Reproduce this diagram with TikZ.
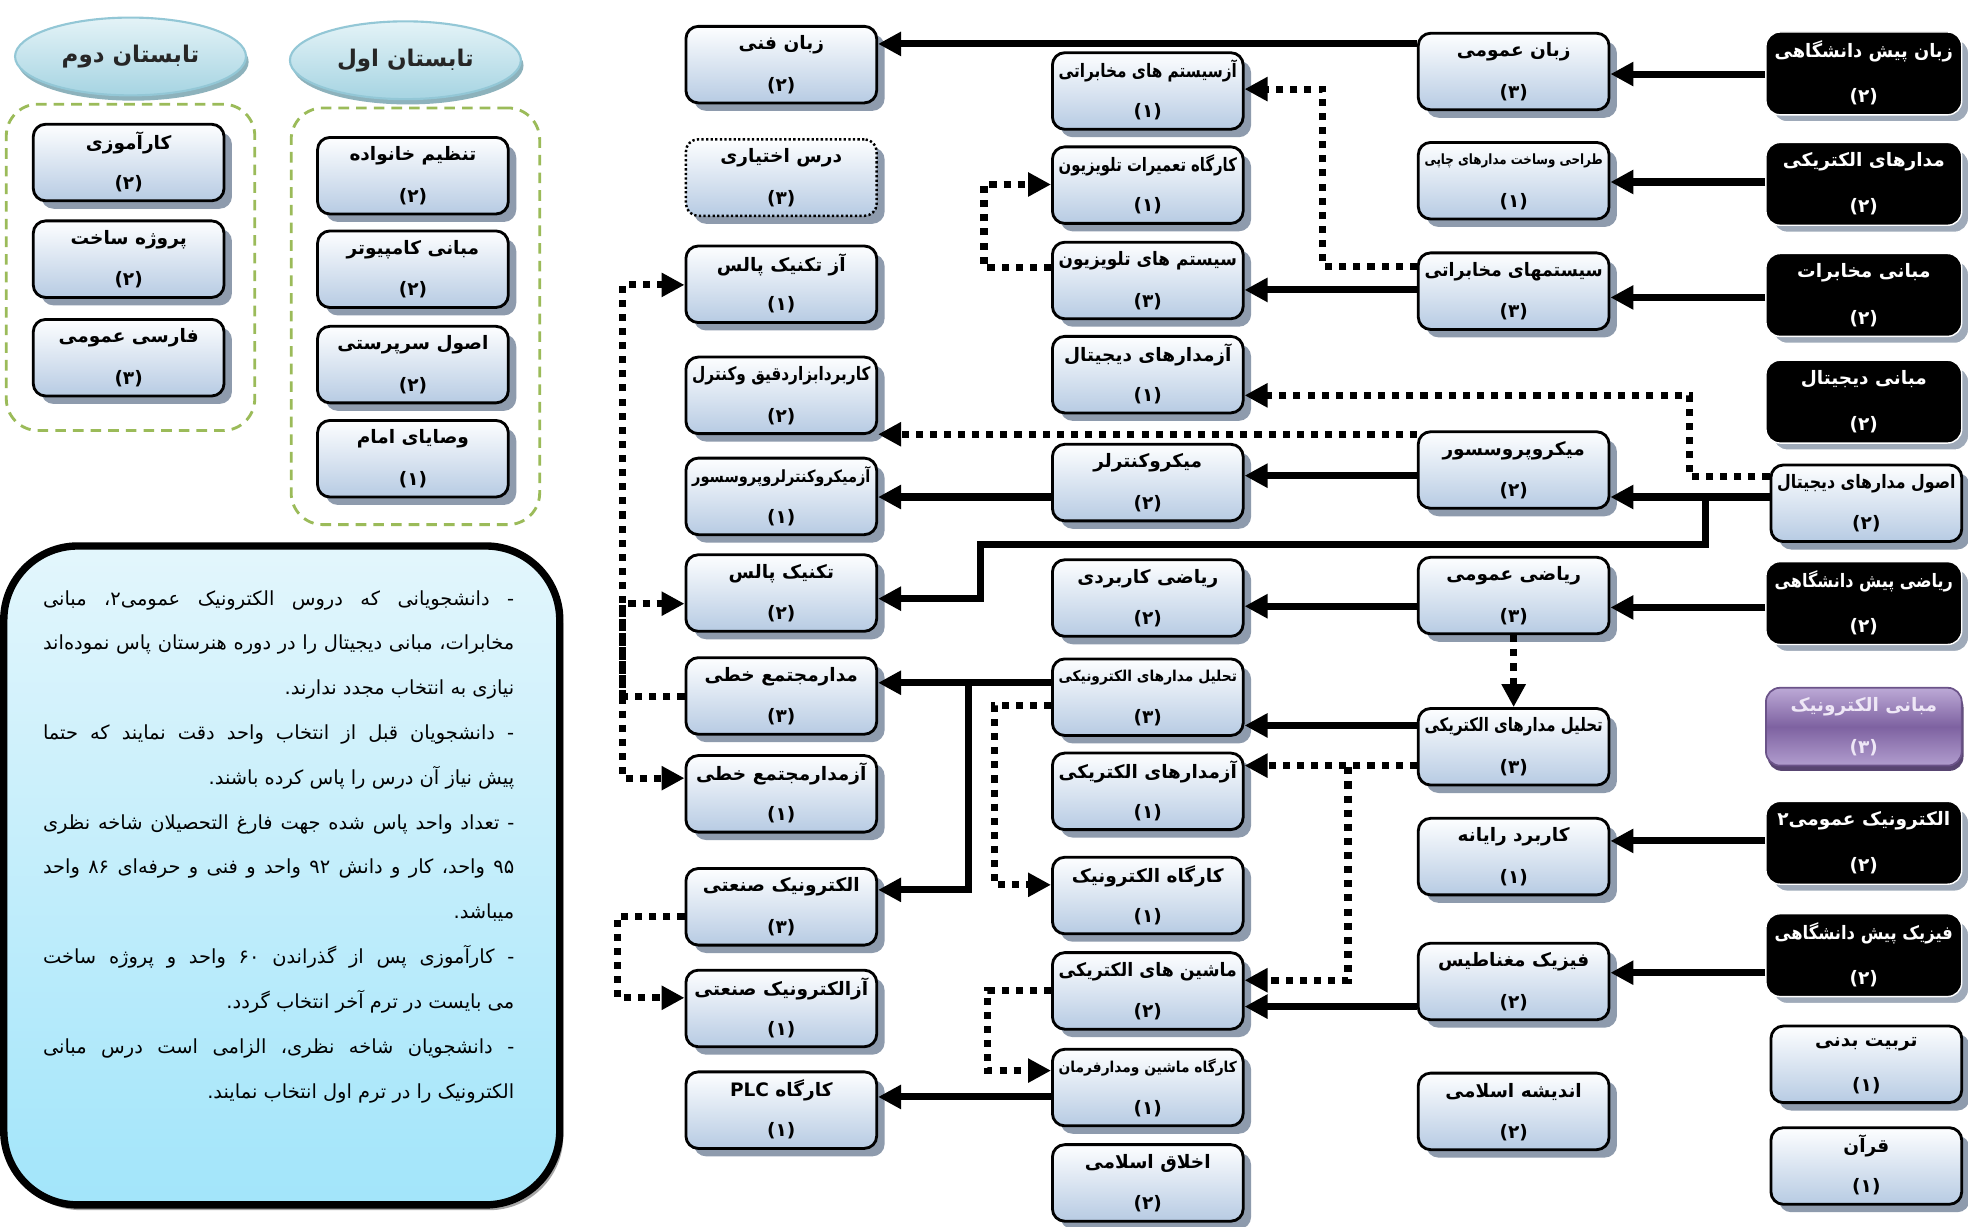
\documentclass[tikz,border=0pt]{standalone}
\usepackage{fontspec}
\usepackage{graphicx}
\usetikzlibrary{arrows.meta,shapes.geometric,shadows,calc}
\TeXXeTstate=1
\newfontfamily\fa[Script=Arabic]{DejaVu Sans}
\newfontfamily\fnum{DejaVu Sans}
\definecolor{boxbot}{HTML}{B7CBE3}
\definecolor{boxtop}{HTML}{FDFEFF}
\definecolor{shc}{HTML}{8E9BAD}
\definecolor{dgreen}{HTML}{9BBB59}
\definecolor{elltop}{HTML}{E4F3F7}
\definecolor{ellbot}{HTML}{A6D4E2}
\definecolor{elldraw}{HTML}{93C7D6}
\definecolor{notetop}{HTML}{E3F6FC}
\definecolor{notebot}{HTML}{A2E5FA}
\definecolor{ptop}{HTML}{BCA9D6}
\definecolor{pmid}{HTML}{7E62A1}
\definecolor{pbot}{HTML}{B19DCE}
\definecolor{ptext}{HTML}{EEE7F6}
\newcommand\JL[1]{\hbox to \hsize{\beginR #1\endR}}
\newcommand\RL[1]{\hbox to \hsize{\hfill\beginR #1\endR}}
\newcommand\fs[1]{\fontsize{#1}{#1}\selectfont}
\newsavebox\titlebox
\newcommand\fitt[1]{\sbox\titlebox{#1}\ifdim\wd\titlebox>101pt\resizebox{101pt}{\height}{\usebox\titlebox}\else\usebox\titlebox\fi}
\newcommand\course[7]{%
  \node[#1] (#3) at (#4,#5) {};
  \node[ttl,text=#2] (#3t) at ($(#3.north)+(0,16)$) {\fitt{\beginR #6\endR}};
  \node[crd,text=#2] (#3c) at ($(#3.south)+(0,-15)$) {(#7)};
}
\begin{document}
\begin{tikzpicture}[x=0.025cm,y=-0.025cm,
  lbox/.style={rectangle, rounded corners=7pt, draw=black, line width=1.6pt,
    top color=boxtop, bottom color=boxbot,
    minimum width={152*0.025cm}, minimum height={61*0.025cm}, inner sep=0pt,
    drop shadow={shadow xshift=4.5pt, shadow yshift=-4.5pt, fill=shc, opacity=1}},
  dbox/.style={lbox, dash pattern=on 1.3pt off 1.3pt, line width=1.4pt},
  bbox/.style={rectangle, rounded corners=8pt, fill=black, draw=white, line width=0.8pt,
    minimum width={156*0.025cm}, minimum height={66*0.025cm}, inner sep=0pt,
    drop shadow={shadow xshift=4pt, shadow yshift=-4pt, fill=shc!85, draw=white, opacity=1}},
  pbox/.style={rectangle, rounded corners=8pt, draw=pmid!85!black, line width=1pt,
    top color=ptop, bottom color=pbot, middle color=pmid,
    minimum width={156*0.025cm}, minimum height={62*0.025cm}, inner sep=0pt,
    drop shadow={shadow xshift=1pt, shadow yshift=-3pt, fill=pmid!70!black, opacity=1}},
  ttl/.style={font=\fa\bfseries\fontsize{10.5}{12}\selectfont, inner sep=0pt},
  crd/.style={font=\fnum\bfseries\fontsize{10.5}{12}\selectfont, inner sep=0pt},
  ell/.style={ellipse, minimum width={184*0.025cm}, minimum height={62*0.025cm},
    top color=elltop, bottom color=ellbot, draw=elldraw, line width=1.2pt,
    drop shadow={shadow xshift=1.5pt, shadow yshift=-3pt, fill=elldraw!70!gray, opacity=1},
    font=\fa\bfseries\fontsize{13}{15}\selectfont, text=black!85, inner sep=0pt},
  grp/.style={draw=dgreen, line width=1.6pt, dash pattern=on 6pt off 4pt, rounded corners=18pt, inner sep=0pt},
  notebox/.style={rectangle, rounded corners=42pt, draw=black, line width=4.2pt,
    top color=notetop, bottom color=notebot,
    drop shadow={shadow xshift=2pt, shadow yshift=-3pt, fill=gray!70, opacity=1}},
  sarr/.style={line width=4pt, -{Triangle[length=13pt,width=13pt]}},
  darr/.style={line width=4pt, dash pattern=on 4pt off 4pt, -{Triangle[length=13pt,width=13pt]}}
]
\fill[white] (0,0) rectangle (1568,977);
\useasboundingbox (0,0) rectangle (1568,977);

% ---- summer groups ----
\node[grp, minimum width={198*0.025cm}, minimum height={260*0.025cm}] (g2) at (104,213) {};
\node[grp, minimum width={198*0.025cm}, minimum height={332*0.025cm}] (g1) at (331,252) {};
\node[ell] (e2) at (104,45) {\beginR تابستان دوم\endR};
\node[ell] (e1) at (323,48) {\beginR تابستان اول\endR};

\course{lbox}{black}{s21}{102.5}{129.5}{کارآموزی}{۲}
\course{lbox}{black}{s22}{102.5}{206.5}{پروژه ساخت}{۲}
\course{lbox}{black}{s23}{102.5}{285}{فارسی عمومی}{۳}
\course{lbox}{black}{s11}{329}{140}{تنظیم خانواده}{۲}
\course{lbox}{black}{s12}{329}{214.5}{مبانی کامپیوتر}{۲}
\course{lbox}{black}{s13}{329}{290.5}{اصول سرپرستی}{۲}
\course{lbox}{black}{s14}{329}{365.5}{وصایای امام}{۱}

% ---- note ----
\node[notebox, minimum width={443*0.025cm}, minimum height={525*0.025cm}] (note) at (224.5,697.5) {};
\node[anchor=north east, inner sep=0pt] (notetxt) at (410,470) {\begin{minipage}{267pt}\fa\fontsize{11}{25.4}\selectfont
\JL{- دانشجویانی که دروس الکترونیک عمومی۲، مبانی}
\JL{مخابرات، مبانی دیجیتال را در دوره هنرستان پاس نموده‌اند}
\RL{نیازی به انتخاب مجدد ندارند.}
\JL{- دانشجویان قبل از انتخاب واحد دقت نمایند که حتما}
\RL{پیش نیاز آن درس را پاس کرده باشند.}
\JL{- تعداد واحد پاس شده جهت فارغ التحصیلان شاخه نظری}
\JL{۹۵ واحد، کار و دانش ۹۲ واحد و فنی و حرفه‌ای ۸۶ واحد}
\RL{میباشد.}
\JL{- کارآموزی پس از گذراندن ۶۰ واحد و پروژه ساخت}
\RL{می بایست در ترم آخر انتخاب گردد.}
\JL{- دانشجویان شاخه نظری، الزامی است درس مبانی}
\RL{الکترونیک را در ترم اول انتخاب نمایند.}
\end{minipage}};

% ---- column A ----
\course{lbox}{black}{zf}{622.5}{51.5}{زبان فنی}{۲}
\course{dbox}{black}{dex}{622.5}{141.5}{درس اختیاری}{۳}
\course{lbox}{black}{atp}{622.5}{226.5}{آز تکنیک پالس}{۱}
\course{lbox}{black}{kbd}{622.5}{315}{کاربردابزاردقیق وکنترل}{۲}
\course{lbox}{black}{amc}{622.5}{395.5}{\fs{9.5}آزمیکروکنترلروپروسسور}{۱}
\course{lbox}{black}{tp}{622.5}{472.5}{تکنیک پالس}{۲}
\course{lbox}{black}{mmk}{622.5}{554.5}{مدارمجتمع خطی}{۳}
\course{lbox}{black}{amm}{622.5}{632.5}{آزمدارمجتمع خطی}{۱}
\course{lbox}{black}{ens}{622.5}{722.5}{الکترونیک صنعتی}{۳}
\course{lbox}{black}{aens}{622.5}{803.5}{آزالکترونیک صنعتی}{۱}
\course{lbox}{black}{plc}{622.5}{884.5}{کارگاه \beginL PLC\endL}{۱}

% ---- column B ----
\course{lbox}{black}{asm}{914.5}{72.5}{آزسیستم های مخابراتی}{۱}
\course{lbox}{black}{ktv}{914.5}{147.5}{کارگاه تعمیرات تلویزیون}{۱}
\course{lbox}{black}{stv}{914.5}{223.5}{سیستم های تلویزیون}{۳}
\course{lbox}{black}{amd}{914.5}{298.5}{آزمدارهای دیجیتال}{۱}
\course{lbox}{black}{mc}{914.5}{384.5}{میکروکنترلر}{۲}
\course{lbox}{black}{rk}{914.5}{476.5}{ریاضی کاربردی}{۲}
\course{lbox}{black}{tmn}{914.5}{555.5}{\fs{8.5}تحلیل مدارهای الکترونیکی}{۳}
\course{lbox}{black}{amk}{914.5}{630.5}{آزمدارهای الکتریکی}{۱}
\course{lbox}{black}{ke}{914.5}{713.5}{کارگاه الکترونیک}{۱}
\course{lbox}{black}{me}{914.5}{789.5}{ماشین های الکتریکی}{۲}
\course{lbox}{black}{kmm}{914.5}{866.5}{\fs{8.5}کارگاه ماشین ومدارفرمان}{۱}
\course{lbox}{black}{akh}{914.5}{942.5}{اخلاق اسلامی}{۲}

% ---- column C ----
\course{lbox}{black}{zo}{1206}{57}{زبان عمومی}{۳}
\course{lbox}{black}{tsm}{1206}{144}{\fs{8}طراحی وساخت مدارهای چاپی}{۱}
\course{lbox}{black}{smk}{1206}{232}{سیستمهای مخابراتی}{۳}
\course{lbox}{black}{mp}{1206}{374.5}{میکروپروسسور}{۲}
\course{lbox}{black}{ro}{1206}{474.5}{ریاضی عمومی}{۳}
\course{lbox}{black}{tme}{1206}{595}{تحلیل مدارهای الکتریکی}{۳}
\course{lbox}{black}{kr}{1206}{682.5}{کاربرد رایانه}{۱}
\course{lbox}{black}{fm}{1206}{782}{فیزیک مغناطیس}{۲}
\course{lbox}{black}{ai}{1206}{885.5}{اندیشه اسلامی}{۲}

% ---- column D ----
\course{bbox}{white}{zpd}{1485}{58.5}{زبان پیش دانشگاهی}{۲}
\course{bbox}{white}{mek}{1485}{146.5}{مدارهای الکتریکی}{۲}
\course{bbox}{white}{mm}{1485}{235}{مبانی مخابرات}{۲}
\course{bbox}{white}{md}{1485}{320}{مبانی دیجیتال}{۲}
\course{lbox}{black}{omd}{1487}{401}{اصول مدارهای دیجیتال}{۲}
\course{bbox}{white}{rpd}{1485}{480.5}{ریاضی پیش دانشگاهی}{۲}
\course{pbox}{ptext}{mel}{1485}{579}{مبانی الکترونیک}{۳}
\course{bbox}{white}{eo2}{1485}{671.5}{الکترونیک عمومی۲}{۲}
\course{bbox}{white}{fpd}{1485}{761}{فیزیک پیش دانشگاهی}{۲}
\course{lbox}{black}{tb}{1487}{848}{تربیت بدنی}{۱}
\course{lbox}{black}{qr}{1487}{929}{قرآن}{۱}

% ---- solid connectors ----
\draw[sarr] (zpd.west |- 0,59) -- (zo.east |- 0,59);
\draw[sarr] (zo.west |- 0,35) -- (zf.east |- 0,35);
\draw[sarr] (mek.west |- 0,145) -- (tsm.east |- 0,145);
\draw[sarr] (mm.west |- 0,237) -- (smk.east |- 0,237);
\draw[sarr] (smk.west |- 0,231) -- (stv.east |- 0,231);
\draw[sarr] (omd.west |- 0,396) -- (mp.east |- 0,396);
\draw[sarr] (omd.west |- 0,396) -- (1359,396) -- (1359,434) -- (781,434) -- (781,477) -- (tp.east |- 0,477);
\draw[sarr] (mp.west |- 0,379) -- (mc.east |- 0,379);
\draw[sarr] (mc.west |- 0,396) -- (amc.east |- 0,396);
\draw[sarr] (rpd.west |- 0,484) -- (ro.east |- 0,484);
\draw[sarr] (ro.west |- 0,483) -- (rk.east |- 0,483);
\draw[sarr] (tme.west |- 0,578) -- (tmn.east |- 0,578);
\draw[sarr] (tmn.west |- 0,544) -- (mmk.east |- 0,544);
\draw[sarr] (tmn.west |- 0,544) -- (772,544) -- (772,709) -- (ens.east |- 0,709);
\draw[sarr] (eo2.west |- 0,670) -- (kr.east |- 0,670);
\draw[sarr] (fpd.west |- 0,775) -- (fm.east |- 0,775);
\draw[sarr] (fm.west |- 0,802) -- (me.east |- 0,802);
\draw[sarr] (kmm.west |- 0,874) -- (plc.east |- 0,874);

% ---- dotted connectors ----
\draw[darr] (smk.west |- 0,212) -- (1054,212) -- (1054,71) -- (asm.east |- 0,71);
\draw[darr] (stv.west |- 0,213) -- (784,213) -- (784,147) -- (ktv.west |- 0,147);
\draw[darr] (omd.west |- 0,380) -- (1346,380) -- (1346,315) -- (amd.east |- 0,315);
\draw[darr] (mp.west |- 0,346) -- (kbd.east |- 0,346);
\draw[darr] (ro.south) -- (tme.north);
\draw[darr] (tme.west |- 0,610) -- (amk.east |- 0,610);
\draw[darr] (tme.west |- 0,610) -- (1074,610) -- (1074,781) -- (me.east |- 0,781);
\draw[darr] (tmn.west |- 0,562) -- (792,562) -- (792,705) -- (ke.west |- 0,705);
\draw[darr] (me.west |- 0,789) -- (787,789) -- (787,853) -- (kmm.west |- 0,853);
\coordinate (jl) at (496,555);
\draw[darr] (mmk.west |- 0,555) -- (jl) -- (496,227) -- (atp.west |- 0,227);
\draw[darr] (jl) |- (tp.west |- 0,481);
\draw[darr] (jl) |- (amm.west |- 0,620);
\draw[darr] (ens.west |- 0,730) -- (492,730) -- (492,795) -- (aens.west |- 0,795);
\end{tikzpicture}
\end{document}
